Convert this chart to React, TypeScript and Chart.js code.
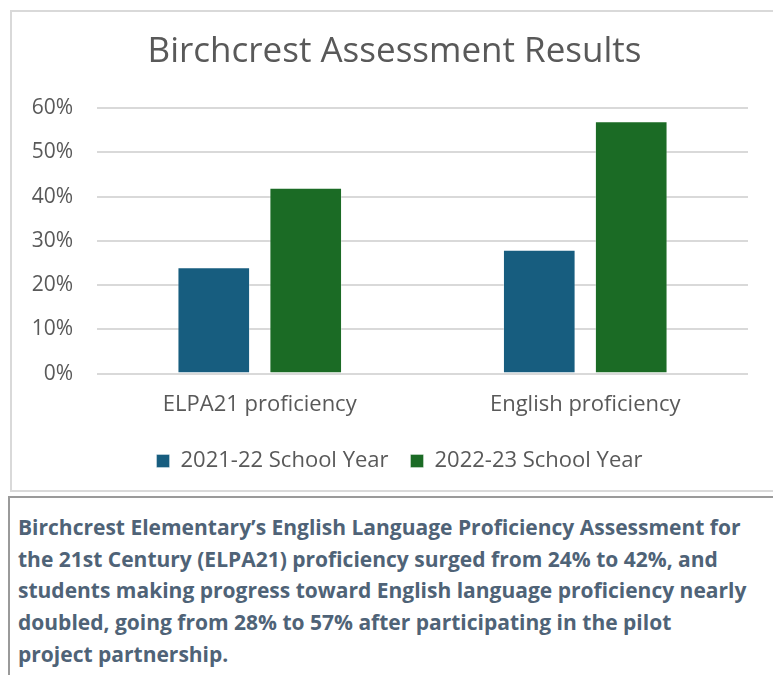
import React, { useEffect, useRef } from "react";
import { Chart, registerables } from "chart.js";

Chart.register(...registerables);

const categories = ["ELPA21 proficiency", "English proficiency"];
const seriesNames = ["2021-22 School Year", "2022-23 School Year"];
const year2122 = [0.24, 0.28];
const year2223 = [0.42, 0.57];
const seriesColors = ["#175d7f", "#1b6b25"];
const titleText = "Birchcrest Assessment Results";
const captionLines = [
  "Birchcrest Elementary\u2019s English Language Proficiency Assessment for",
  "the 21st Century (ELPA21) proficiency surged from 24% to 42%, and",
  "students making progress toward English language proficiency nearly",
  "doubled, going from 28% to 57% after participating in the pilot",
  "project partnership.",
];

const FONT = "'Open Sans', 'Liberation Sans', sans-serif";

const blockShift = {
  id: "blockShift",
  afterLayout(chart: any) {
    if (chart.titleBlock) chart.titleBlock.left = 41;
    if (chart.legend) chart.legend.left = 51;
  },
};

export default function App() {
  const ref = useRef<HTMLCanvasElement | null>(null);

  useEffect(() => {
    if (!ref.current) return;
    const chart = new Chart(ref.current, {
      type: "bar",
      data: {
        labels: categories,
        datasets: [
          {
            label: seriesNames[0],
            data: year2122,
            backgroundColor: seriesColors[0],
            borderColor: "rgba(255,255,255,0.35)",
            borderWidth: 1,
          },
          {
            label: seriesNames[1],
            data: year2223,
            backgroundColor: seriesColors[1],
            borderColor: "rgba(255,255,255,0.35)",
            borderWidth: 1,
          },
        ],
      },
      plugins: [blockShift],
      options: {
        responsive: false,
        animation: false,
        maintainAspectRatio: false,
        layout: { padding: { left: 7, right: 25, top: 31, bottom: 6 } },
        datasets: { bar: { categoryPercentage: 0.565, barPercentage: 0.79 } },
        plugins: {
          title: {
            display: true,
            text: titleText,
            color: "#595959",
            font: { family: FONT, size: 35, weight: "normal" },
            padding: { top: 0, bottom: 35 },
          },
          legend: {
            position: "bottom",
            labels: {
              boxWidth: 13,
              boxHeight: 13,
              color: "#595959",
              font: { family: FONT, size: 22 },
              padding: 22,
            },
          },
          tooltip: { enabled: false },
        },
        scales: {
          x: {
            grid: { display: false },
            border: { display: false },
            ticks: { color: "#595959", font: { family: FONT, size: 22 }, padding: 10 },
          },
          y: {
            min: 0,
            max: 0.6,
            afterFit: (scale: any) => {
              scale.width = 90;
            },
            ticks: {
              stepSize: 0.1,
              color: "#595959",
              font: { family: FONT, size: 21 },
              padding: 24,
              callback: (v: any) => Math.round(Number(v) * 100) + "%",
            },
            grid: { color: "#d9d9d9", lineWidth: 2, drawTicks: false },
            border: { display: false },
          },
        },
      },
    });
    return () => chart.destroy();
  }, []);

  return (
    <div style={{ position: "absolute", left: 0, top: 0, width: 773, height: 675, overflow: "hidden", background: "#fff" }}>
      <div
        style={{
          position: "absolute",
          left: 10,
          top: 10,
          width: 800,
          height: 478,
          border: "2px solid #d9d9d9",
        }}
      />
      <canvas ref={ref} width={773} height={488} style={{ position: "absolute", left: 0, top: 0, width: 773, height: 488 }} />
      <div
        style={{
          position: "absolute",
          left: 8,
          top: 496,
          width: 800,
          height: 200,
          borderTop: "2px solid #9a9a9a",
          borderLeft: "2px solid #9a9a9a",
          boxSizing: "border-box",
          padding: "14px 0 0 8px",
          fontFamily: "'Open Sans', sans-serif",
          fontWeight: "bold",
          fontSize: 21,
          lineHeight: "31.7px",
          color: "#4f6377",
          whiteSpace: "nowrap",
        }}
      >
        {captionLines.map((l, i) => (
          <div key={i}>{l}</div>
        ))}
      </div>
    </div>
  );
}
